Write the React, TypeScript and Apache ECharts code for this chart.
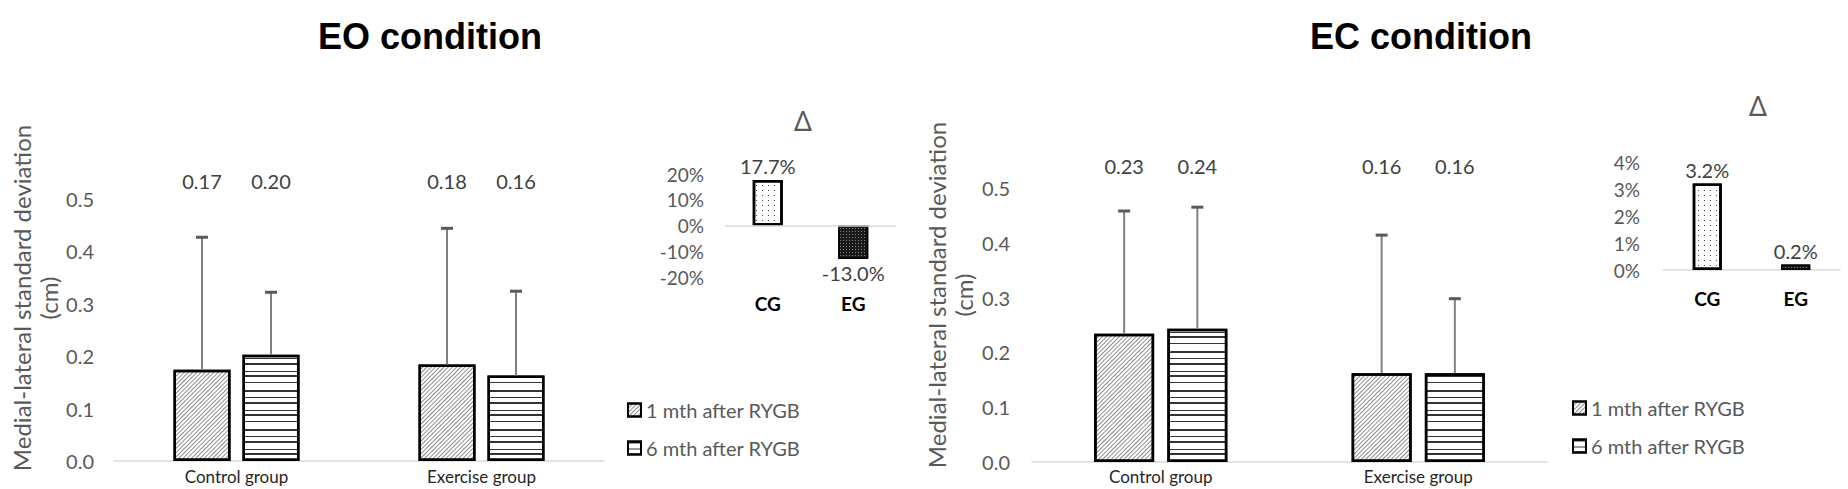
import { useEffect, useRef } from 'react';
import * as echarts from 'echarts';

const GROUPS = ['Control group', 'Exercise group'];
const SERIES_NAMES = ['1 mth after RYGB', '6 mth after RYGB'];
const TITLES = ['EO condition', 'EC condition'];
const Y_NAME = 'Medial-lateral standard deviation\n(cm)';
const DELTA_TITLE = 'Δ';

// EO condition: means and upper error (SD)
const EO_MEAN_1M = [0.174, 0.184];
const EO_MEAN_6M = [0.203, 0.163];
const EO_SD_1M = [0.253, 0.26];
const EO_SD_6M = [0.119, 0.161];

// EC condition
const EC_MEAN_1M = [0.234, 0.162];
const EC_MEAN_6M = [0.243, 0.162];
const EC_SD_1M = [0.224, 0.252];
const EC_SD_6M = [0.222, 0.136];

// Δ insets (%)
const DELTA_CATS = ['CG', 'EG'];
const EO_DELTA = [17.7, -13.0];
const EC_DELTA = [3.2, 0.2];

const FONT = 'Lato, "Open Sans", sans-serif';

export default function App() {
  const ref = useRef<HTMLDivElement>(null);

  useEffect(() => {
    const chart = echarts.init(ref.current!, null, { renderer: 'svg' });

    const decal1m: any = {
      symbol: 'rect', symbolSize: 1, dashArrayX: [1, 0], dashArrayY: [1, 2],
      rotation: -Math.PI / 4, color: 'rgba(0,0,0,0.45)', backgroundColor: '#fff',
    };
    const decal6m: any = {
      symbol: 'rect', symbolSize: 1, dashArrayX: [1, 0],
      dashArrayY: [2, 5, 1, 4, 2, 6, 1, 3, 2, 5, 1, 7],
      rotation: 0, color: 'rgba(0,0,0,0.8)', backgroundColor: '#fff',
    };
    const decalCG: any = {
      symbol: 'rect', symbolSize: 1, dashArrayX: [1, 5], dashArrayY: [1, 4],
      color: '#444', backgroundColor: '#fff',
    };
    const decalEG: any = {
      symbol: 'rect', symbolSize: 1, dashArrayX: [1, 2], dashArrayY: [1, 2],
      color: 'rgba(255,255,255,0.45)', backgroundColor: '#1a1a1a',
    };

    const barBase = (name: string, gi: number, data: number[], decal: any, width: number, gap: string) => ({
      name, type: 'bar', xAxisIndex: gi, yAxisIndex: gi, data,
      barWidth: width, barGap: gap,
      itemStyle: { color: '#fff', borderColor: '#000', borderWidth: 2.5, decal },
      z: 2,
    });

    const errSeries = (gi: number, means: number[], sds: number[], offset: number, level: number) => ({
      type: 'custom', xAxisIndex: gi, yAxisIndex: gi, z: 3,
      data: means.map((m, i) => [i, m, sds[i]]),
      renderItem: (_p: any, api: any) => {
        const i = api.value(0);
        const m = api.value(1);
        const sd = api.value(2);
        const p0 = api.coord([i, m]);
        const p1 = api.coord([i, m + sd]);
        const pl = api.coord([i, level]);
        const x = p0[0] + offset;
        return {
          type: 'group',
          children: [
            { type: 'line', shape: { x1: x, y1: p0[1], x2: x, y2: p1[1] }, style: { stroke: '#808080', lineWidth: 2 } },
            { type: 'line', shape: { x1: x - 6, y1: p1[1], x2: x + 6, y2: p1[1] }, style: { stroke: '#595959', lineWidth: 3 } },
            {
              type: 'text', x, y: pl[1],
              style: {
                text: m.toFixed(2), textAlign: 'center', textVerticalAlign: 'middle',
                align: 'center', verticalAlign: 'middle',
                fill: '#404040', fontSize: 20, fontFamily: FONT,
              },
            },
          ],
        };
      },
    });

    const mainX = (gi: number, margin: number) => ({
      type: 'category', gridIndex: gi, data: GROUPS,
      axisTick: { show: false },
      axisLine: { lineStyle: { color: '#d9d9d9', width: 1.5 } },
      axisLabel: { color: '#262626', fontSize: 17, fontFamily: FONT, margin },
    });
    const mainY = (gi: number, margin: number) => ({
      type: 'value', gridIndex: gi, min: 0, max: 0.5, interval: 0.1,
      axisLine: { show: false }, axisTick: { show: false }, splitLine: { show: false },
      axisLabel: { color: '#595959', fontSize: 20, fontFamily: FONT, margin, formatter: (v: number) => v.toFixed(1) },
    });

    const deltaData = (vals: number[], eg: any) =>
      vals.map((v, i) => ({
        value: v,
        itemStyle: i === 0
          ? { color: '#fff', borderColor: '#000', borderWidth: 2.5, decal: decalCG }
          : { color: '#1a1a1a', borderColor: '#000', borderWidth: 1.5, decal: eg },
        label: { position: v < 0 ? 'bottom' : 'top' },
      }));

    const legendBase = (left: number, top: number) => ({
      data: SERIES_NAMES, orient: 'vertical', left, top,
      itemWidth: 13, itemHeight: 13, itemGap: 18, icon: 'rect', selectedMode: false,
      textStyle: { color: '#595959', fontSize: 20, fontFamily: FONT },
    });

    const titleStyle = (text: string) => ({
      text, fontSize: 36, fontWeight: 'bold', fontFamily: '"Liberation Sans", Arial, sans-serif', fill: '#000',
      textAlign: 'center', textVerticalAlign: 'middle', align: 'center', verticalAlign: 'middle',
    });
    const deltaStyle = {
      text: DELTA_TITLE, fontSize: 28, fontFamily: '"Noto Sans", sans-serif', fill: '#595959',
      textAlign: 'center', textVerticalAlign: 'middle', align: 'center', verticalAlign: 'middle',
    };
    const yNameStyle = {
      text: Y_NAME, fontSize: 24, lineHeight: 27, fontFamily: FONT, fill: '#595959',
      textAlign: 'center', textVerticalAlign: 'middle', align: 'center', verticalAlign: 'middle',
    };

    const option: any = {
      animation: false,
      backgroundColor: '#fff',
      grid: [
        { left: 114, top: 199, width: 490, height: 262 },
        { left: 725, top: 174, width: 171, height: 103 },
        { left: 1032, top: 188, width: 515, height: 274 },
        { left: 1663, top: 162, width: 177, height: 108 },
      ],
      xAxis: [
        mainX(0, 7),
        {
          type: 'category', gridIndex: 1, data: DELTA_CATS,
          axisTick: { show: false }, axisLine: { show: false, onZero: false },
          axisLabel: { color: '#000', fontWeight: 'bold', fontSize: 19, fontFamily: FONT, margin: 17 },
        },
        mainX(2, 6),
        {
          type: 'category', gridIndex: 3, data: DELTA_CATS,
          axisTick: { show: false }, axisLine: { lineStyle: { color: '#d9d9d9', width: 1.5 } },
          axisLabel: { color: '#000', fontWeight: 'bold', fontSize: 19, fontFamily: FONT, margin: 19 },
        },
      ],
      yAxis: [
        mainY(0, 20),
        {
          type: 'value', gridIndex: 1, min: -20, max: 20, interval: 10,
          axisLine: { show: false }, axisTick: { show: false }, splitLine: { show: false },
          axisLabel: { color: '#595959', fontSize: 19, fontFamily: FONT, margin: 21, formatter: (v: number) => `${v}%` },
        },
        mainY(2, 22),
        {
          type: 'value', gridIndex: 3, min: 0, max: 4, interval: 1,
          axisLine: { show: false }, axisTick: { show: false }, splitLine: { show: false },
          axisLabel: { color: '#595959', fontSize: 19, fontFamily: FONT, margin: 23, formatter: (v: number) => `${v}%` },
        },
      ],
      legend: [legendBase(622, 395), legendBase(1567, 393)],
      graphic: [
        { type: 'text', x: 430, y: 36, style: titleStyle(TITLES[0]) },
        { type: 'text', x: 1421, y: 36, style: titleStyle(TITLES[1]) },
        { type: 'text', x: 803, y: 120, style: deltaStyle },
        { type: 'text', x: 1758, y: 105, style: deltaStyle },
        { type: 'text', x: 35, y: 298, rotation: Math.PI / 2, style: yNameStyle },
        { type: 'text', x: 950, y: 295, rotation: Math.PI / 2, style: yNameStyle },
      ],
      series: [
        barBase(SERIES_NAMES[0], 0, EO_MEAN_1M, decal1m, 57, '21%'),
        barBase(SERIES_NAMES[1], 0, EO_MEAN_6M, decal6m, 57, '21%'),
        errSeries(0, EO_MEAN_1M, EO_SD_1M, -34.5, 0.535),
        errSeries(0, EO_MEAN_6M, EO_SD_6M, 34.5, 0.535),
        barBase(SERIES_NAMES[0], 2, EC_MEAN_1M, decal1m, 60, '22%'),
        barBase(SERIES_NAMES[1], 2, EC_MEAN_6M, decal6m, 60, '22%'),
        errSeries(2, EC_MEAN_1M, EC_SD_1M, -36.6, 0.54),
        errSeries(2, EC_MEAN_6M, EC_SD_6M, 36.6, 0.54),
        {
          name: 'Δ EO', type: 'bar', xAxisIndex: 1, yAxisIndex: 1, barWidth: 30,
          data: deltaData(EO_DELTA, decalEG),
          label: { show: true, color: '#404040', fontSize: 20, fontFamily: FONT, distance: 4, formatter: (p: any) => `${p.value.toFixed(1)}%` },
          markLine: {
            silent: true, symbol: 'none', label: { show: false },
            lineStyle: { color: '#d9d9d9', width: 1.5, type: 'solid' },
            data: [{ yAxis: 0 }],
          },
        },
        {
          name: 'Δ EC', type: 'bar', xAxisIndex: 3, yAxisIndex: 3, barWidth: 29,
          data: deltaData(EC_DELTA, decalEG),
          label: { show: true, color: '#404040', fontSize: 20, fontFamily: FONT, distance: 4, formatter: (p: any) => `${p.value.toFixed(1)}%` },
        },
      ],
    };

    chart.setOption(option);
    return () => chart.dispose();
  }, []);

  return <div ref={ref} style={{ position: 'absolute', left: 0, top: 0, width: 1848, height: 489 }} />;
}
